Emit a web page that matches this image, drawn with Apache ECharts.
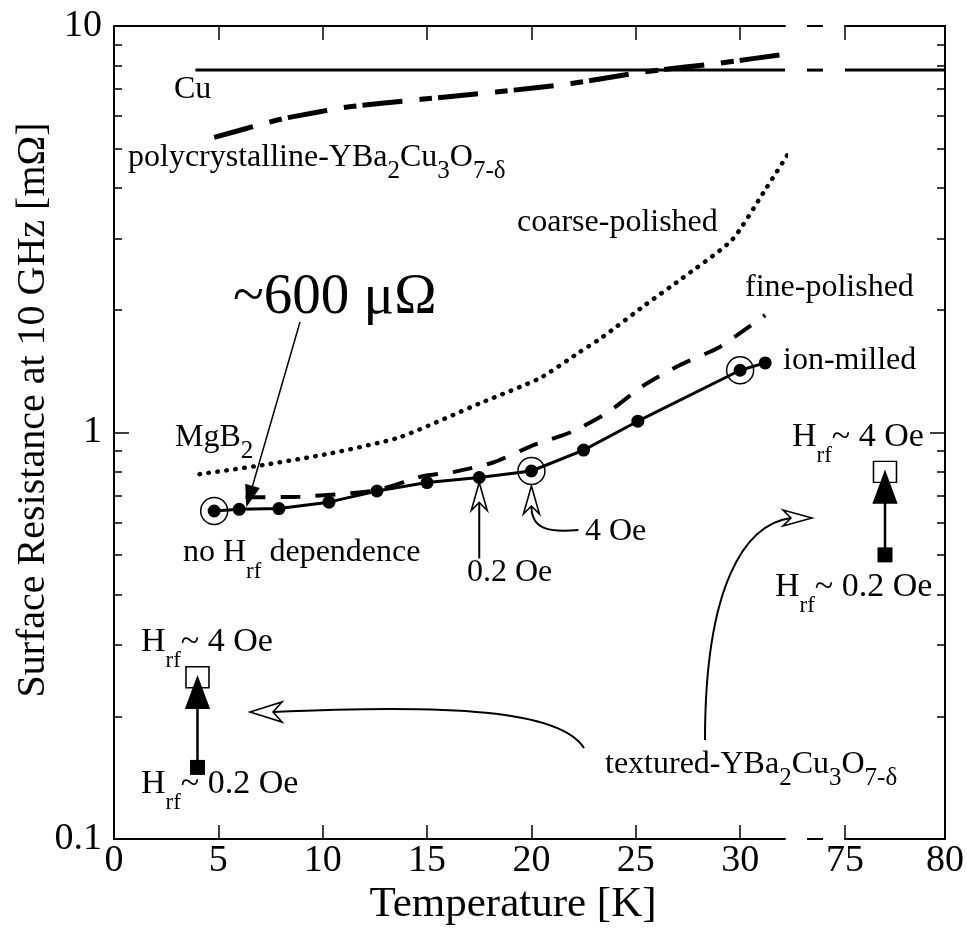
<!DOCTYPE html>
<html><head><meta charset="utf-8">
<script src="https://cdn.jsdelivr.net/npm/echarts@6/dist/echarts.min.js"></script>
<style>html,body{margin:0;padding:0;background:#fff}#c{width:967px;height:935px}</style>
</head><body><div id="c"></div>
<script>
// ---------------- data ----------------
const cuT = [3.9, 32.15];
const cuR = [7.79, 7.79];
const cuT2 = [75, 80];
const cuR2 = [7.79, 7.79];
const polyT = [4.8, 7.5, 8.4, 11.2, 14.7, 18.3, 21.9, 25.4, 28.9, 32.1];
const polyR = [5.32, 5.81, 5.96, 6.32, 6.60, 6.88, 7.22, 7.71, 8.09, 8.52];
const coarseT = [4.1, 7.1, 10.4, 13.7, 17.5, 20.4, 22.3, 23.4, 25.5, 27.1, 29.6, 31.1, 32.5];
const coarseR = [0.790, 0.831, 0.889, 0.974, 1.178, 1.360, 1.576, 1.716, 2.068, 2.370, 2.972, 3.879, 5.03];
const fineT = [6.3, 8.9, 12.6, 14.8, 16.3, 18.2, 20.1, 21.9, 23.6, 25.4, 27.1, 29.0, 31.2];
const fineR = [0.693, 0.695, 0.721, 0.781, 0.800, 0.845, 0.931, 1.002, 1.115, 1.307, 1.464, 1.621, 1.944];
const ionT = [4.8, 6.0, 7.9, 10.3, 12.6, 15.0, 17.5, 20.0, 22.5, 25.1, 30.0, 31.2];
const ionR = [0.641, 0.647, 0.650, 0.674, 0.718, 0.753, 0.775, 0.804, 0.905, 1.066, 1.423, 1.483];
const circT = [4.8, 20.0, 30.0];
const circR = [0.641, 0.804, 1.423];
const texLowT = [4.0];   const texLowR = [0.15];    // Hrf ~ 0.2 Oe (filled)
const texHighT = [4.0];  const texHighR = [0.25];   // Hrf ~ 4 Oe (open)
const tex77LowT = [77.0];  const tex77LowR = [0.50];
const tex77HighT = [77.0]; const tex77HighR = [0.80];
const xTicksLeft = [0, 5, 10, 15, 20, 25, 30];
const xTicksRight = [75, 80];
const yMajor = [0.1, 1, 10];
const yMinor = [0.2,0.3,0.4,0.5,0.6,0.7,0.8,0.9,2,3,4,5,6,7,8,9];

const zip = (a, b) => a.map((v, i) => [v, b[i]]);

// ---------------- style ----------------
const FONT = '"Liberation Serif", "Times New Roman", serif';
const K = '#000';
const LEFT_MAX = 32.15;

function xAx(gi, pos, min, max, ticks, showLabel) {
  return {
    type: 'value', gridIndex: gi, position: pos, min: min, max: max,
    axisLine: { show: true, onZero: false, lineStyle: { color: K, width: 2 } },
    axisTick: { show: true, inside: true, length: 14, customValues: ticks, lineStyle: { color: K, width: 1.5 } },
    axisLabel: { show: showLabel, customValues: ticks, color: K, fontFamily: FONT, fontSize: 38, margin: 3 },
    splitLine: { show: false }
  };
}
function yAx(gi, pos, vals, len, showLine, showLabel) {
  return {
    type: 'log', logBase: 10, gridIndex: gi, position: pos, min: 0.1, max: 10,
    axisLine: { show: showLine, onZero: false, lineStyle: { color: K, width: 2 } },
    axisTick: { show: true, inside: true, length: len, customValues: vals, lineStyle: { color: K, width: 1.5 } },
    axisLabel: { show: showLabel, customValues: vals, color: K, fontFamily: FONT, fontSize: 38, margin: 12,
      formatter: v => (v >= 1 ? String(Math.round(v)) : String(+v.toFixed(1))) },
    splitLine: { show: false }, minorTick: { show: false }
  };
}

const option = {
  animation: false,
  backgroundColor: '#fff',
  grid: [
    { left: 114, top: 26, width: 671, height: 813 },
    { left: 845, top: 26, width: 103, height: 813 }
  ],
  xAxis: [
    xAx(0, 'bottom', 0, LEFT_MAX, xTicksLeft, true),
    xAx(0, 'top', 0, LEFT_MAX, xTicksLeft, false),
    xAx(1, 'bottom', 75, 80, xTicksRight, true),
    xAx(1, 'top', 75, 80, xTicksRight, false)
  ],
  yAxis: [
    yAx(0, 'left', yMajor, 15, true, true),
    yAx(0, 'left', yMinor, 8, false, false),
    yAx(1, 'right', yMajor, 15, true, false),
    yAx(1, 'right', yMinor, 8, false, false)
  ],
  series: [
    { type: 'line', xAxisIndex: 0, yAxisIndex: 0, data: zip(cuT, cuR), symbol: 'none',
      lineStyle: { color: K, width: 3 } },
    { type: 'line', xAxisIndex: 2, yAxisIndex: 2, data: zip(cuT2, cuR2), symbol: 'none',
      lineStyle: { color: K, width: 3 } },
    { type: 'line', xAxisIndex: 0, yAxisIndex: 0, data: zip(polyT, polyR), symbol: 'none', smooth: 0.2,
      lineStyle: { color: K, width: 5, type: [40, 17, 13, 6] } },
    { type: 'line', xAxisIndex: 0, yAxisIndex: 0, data: zip(coarseT, coarseR), symbol: 'none', smooth: 0.2, clip: false,
      lineStyle: { color: K, width: 4.5, type: [0.5, 8.5], cap: 'round' } },
    { type: 'line', xAxisIndex: 0, yAxisIndex: 0, data: zip(fineT, fineR), symbol: 'none', smooth: 0.2,
      lineStyle: { color: K, width: 4, type: [20, 15] } },
    { type: 'line', xAxisIndex: 0, yAxisIndex: 0, data: zip(ionT, ionR), symbol: 'circle', symbolSize: 13,
      itemStyle: { color: K, opacity: 1 }, lineStyle: { color: K, width: 3 } },
    { type: 'scatter', xAxisIndex: 0, yAxisIndex: 0, data: zip(circT, circR), symbol: 'circle', symbolSize: 27,
      itemStyle: { color: 'rgba(0,0,0,0)', borderColor: K, borderWidth: 1.5, opacity: 1 }, z: 1 },
    { type: 'scatter', xAxisIndex: 0, yAxisIndex: 0, data: zip(texHighT, texHighR), symbol: 'rect', symbolSize: [23, 21],
      itemStyle: { color: '#fff', borderColor: K, borderWidth: 1.5, opacity: 1 }, z: 1 },
    { type: 'scatter', xAxisIndex: 0, yAxisIndex: 0, data: zip(texLowT, texLowR), symbol: 'rect', symbolSize: 15,
      itemStyle: { color: K, opacity: 1 } },
    { type: 'scatter', xAxisIndex: 2, yAxisIndex: 2, data: zip(tex77HighT, tex77HighR), symbol: 'rect', symbolSize: [23, 21],
      itemStyle: { color: '#fff', borderColor: K, borderWidth: 1.5, opacity: 1 }, z: 1 },
    { type: 'scatter', xAxisIndex: 2, yAxisIndex: 2, data: zip(tex77LowT, tex77LowR), symbol: 'rect', symbolSize: 15,
      itemStyle: { color: K, opacity: 1 } }
  ]
};

const chart = echarts.init(document.getElementById('c'), null, { renderer: 'canvas' });
chart.setOption(option);

// ---------------- annotations ----------------
const PL = p => chart.convertToPixel({ xAxisIndex: 0, yAxisIndex: 0 }, p);
const PR = p => chart.convertToPixel({ xAxisIndex: 2, yAxisIndex: 2 }, p);

function richText(x, y, parts, size, subSize, subOff) {
  return {
    type: 'text', x: x, y: y, z: 100,
    style: {
      text: parts.map(p => '{' + p[0] + '|' + p[1] + '}').join(''),
      align: 'left', verticalAlign: 'middle', fill: K,
      fontFamily: FONT, fontSize: size,
      rich: {
        b: { fontFamily: FONT, fontSize: size, fill: K },
        s: { fontFamily: FONT, fontSize: subSize, fill: K, padding: [2 * subOff, 0, 0, 0] }
      }
    }
  };
}
function plainText(x, y, text, size) {
  return { type: 'text', x: x, y: y, z: 100,
    style: { text: text, fontFamily: FONT, fontSize: size, fill: K, align: 'left', verticalAlign: 'middle' } };
}
function line(x1, y1, x2, y2, w) {
  return { type: 'line', z: 90, shape: { x1: x1, y1: y1, x2: x2, y2: y2 }, style: { stroke: K, lineWidth: w || 2 } };
}
function head(tip, dir, L, W, notch, hollow) {
  const n = Math.hypot(dir[0], dir[1]);
  const d = [dir[0] / n, dir[1] / n], q = [-d[1], d[0]];
  const b = [tip[0] - d[0] * L, tip[1] - d[1] * L];
  const pts = [tip, [b[0] + q[0] * W, b[1] + q[1] * W],
    [tip[0] - d[0] * (L - notch), tip[1] - d[1] * (L - notch)], [b[0] - q[0] * W, b[1] - q[1] * W]];
  return { el: { type: 'polygon', z: 95, shape: { points: pts },
      style: { fill: hollow ? '#fff' : K, stroke: K, lineWidth: 1.6, lineJoin: 'miter' } },
    back: pts[2] };
}
function bez(p0, c1, c2, p1) {
  return { type: 'bezierCurve', z: 90,
    shape: { x1: p0[0], y1: p0[1], cpx1: c1[0], cpy1: c1[1], cpx2: c2[0], cpy2: c2[1], x2: p1[0], y2: p1[1] },
    style: { stroke: K, lineWidth: 2, fill: null } };
}

const g = [];
g.push({ type: 'text', x: 513, y: 905, z: 100,
  style: { text: 'Temperature [K]', fontFamily: FONT, fontSize: 43, fill: K, align: 'center', verticalAlign: 'middle' } });
g.push({ type: 'text', x: 33, y: 410, rotation: Math.PI / 2, z: 100,
  style: { text: 'Surface Resistance at 10 GHz [mΩ]', fontFamily: FONT, fontSize: 40, fill: K, align: 'center', verticalAlign: 'middle' } });

// axis break marks
const leftEnd = PL([LEFT_MAX, 10])[0];
const rightStart = PR([75, 10])[0];
const mid = (leftEnd + rightStart) / 2;
const yTop = PL([0, 10])[1], yBot = PL([0, 0.1])[1], yCu = PL([0, cuR[1]])[1];
g.push(line(mid - 8, yTop, mid + 8, yTop, 2));
g.push(line(mid - 8, yBot, mid + 8, yBot, 2));
g.push(line(mid - 8, yCu, mid + 8, yCu, 3));

// labels
g.push(plainText(174, 90, 'Cu', 32));
g.push(richText(128, 158, [['b', 'polycrystalline-YBa'], ['s', '2'], ['b', 'Cu'], ['s', '3'], ['b', 'O'], ['s', '7-δ']], 32, 25, 13));
g.push(plainText(517, 223, 'coarse-polished', 32));
g.push(plainText(745, 288, 'fine-polished', 32));
g.push(plainText(783, 361, 'ion-milled', 32));
g.push(plainText(233, 298, '~600 μΩ', 57));
g.push(richText(175, 438, [['b', 'MgB'], ['s', '2']], 32, 25, 13));
g.push(richText(183, 553, [['b', 'no H'], ['s', 'rf'], ['b', ' dependence']], 32, 23, 19));
g.push(plainText(467, 573, '0.2 Oe', 32));
g.push(plainText(585, 532, '4 Oe', 32));
g.push(richText(792, 437, [['b', 'H'], ['s', 'rf'], ['b', '~ 4 Oe']], 34, 23, 19));
g.push(richText(775, 587, [['b', 'H'], ['s', 'rf'], ['b', '~ 0.2 Oe']], 34, 23, 19));
g.push(richText(141, 642, [['b', 'H'], ['s', 'rf'], ['b', '~ 4 Oe']], 34, 23, 19));
g.push(richText(141, 784, [['b', 'H'], ['s', 'rf'], ['b', '~ 0.2 Oe']], 34, 23, 19));
g.push(richText(605, 765, [['b', 'textured-YBa'], ['s', '2'], ['b', 'Cu'], ['s', '3'], ['b', 'O'], ['s', '7-δ']], 32, 25, 13));

// ~600 arrow
{
  const from = [300, 322], tip = [247, 505];
  const h = head(tip, [tip[0] - from[0], tip[1] - from[1]], 19, 6.5, 0, false);
  g.push(line(from[0], from[1], h.back[0], h.back[1], 1.5));
  g.push(h.el);
}
// 0.2 Oe hollow arrow
{
  const p = PL([ionT[6], ionR[6]]);
  const tip = [p[0], p[1] + 5];
  const h = head(tip, [0, -1], 28, 8, 8, true);
  g.push(line(tip[0], h.back[1], tip[0], tip[1] + 76, 2));
  g.push(h.el);
}
// 4 Oe curved hollow arrow
{
  const p = PL([circT[1], circR[1]]);
  const tip = [p[0], p[1] + 15];
  const h = head(tip, [0, -1], 28, 8, 8, true);
  g.push(bez(h.back, [h.back[0], h.back[1] + 22], [h.back[0] + 15, h.back[1] + 27], [h.back[0] + 47, h.back[1] + 24]));
  g.push(h.el);
}
// textured curved arrows
{
  const tip = [250, 712];
  const h = head(tip, [-1, 0], 32, 10, 9, true);
  g.push(bez(h.back, [450, 704], [560, 710], [584, 748]));
  g.push(h.el);
}
{
  const tip = [812, 518];
  const h = head(tip, [1, 0], 29, 8, 8, true);
  g.push(bez(h.back, [745, 524], [705, 585], [705, 740]));
  g.push(h.el);
}
function squareArrow(lo, hi) {
  const h = head(hi, [0, -1], 31, 11.5, 0, false);
  g.push(line(lo[0], lo[1], h.back[0], h.back[1], 2.5));
  g.push(h.el);
}
squareArrow(PL([texLowT[0], texLowR[0]]), PL([texHighT[0], texHighR[0]]));
squareArrow(PR([tex77LowT[0], tex77LowR[0]]), PR([tex77HighT[0], tex77HighR[0]]));

chart.setOption({ graphic: g });
</script>
</body></html>
